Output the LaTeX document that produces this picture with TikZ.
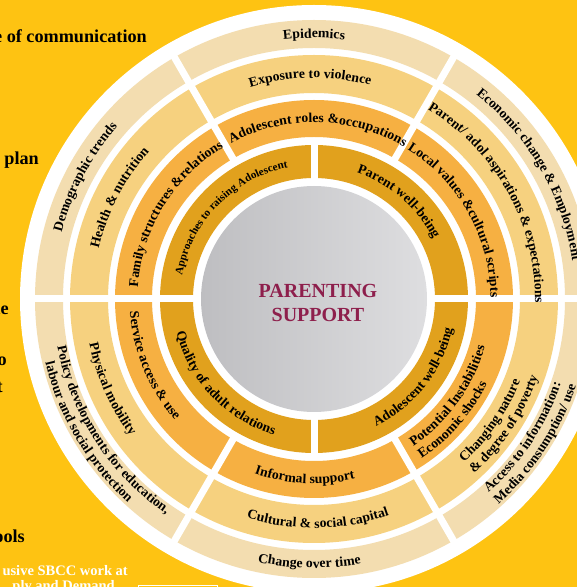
\documentclass[tikz,border=0pt]{standalone}
\usepackage{fontspec}
\setmainfont{Liberation Serif}
\newfontfamily\ringfont{Liberation Serif}[FakeStretch=1.02]
\usetikzlibrary{decorations.text}

\definecolor{bgyellow}{RGB}{254,195,18}
\definecolor{ringA}{RGB}{225,161,29}
\definecolor{ringB}{RGB}{246,176,66}
\definecolor{ringC}{RGB}{246,209,127}
\definecolor{ringD}{RGB}{243,221,176}
\definecolor{plum}{RGB}{142,31,76}
\definecolor{greyL}{RGB}{190,190,193}
\definecolor{greyR}{RGB}{222,222,224}

\newcommand{\lblfont}[1]{\ringfont\fontsize{#1}{#1}\selectfont\bfseries}

% upper half: text runs clockwise, lower half: anticlockwise
\newcommand{\uplabel}[4][13.5]{%
  \path[decorate, decoration={text along path, text align=center,
      text={|\lblfont{#1}|#4}}]
    (#3+45:#2) arc[start angle=#3+45, end angle=#3-45, radius=#2];}
\newcommand{\lowlabel}[4][13.5]{%
  \path[decorate, decoration={text along path, text align=center,
      text={|\lblfont{#1}|#4}}]
    (#3-45:#2) arc[start angle=#3-45, end angle=#3+45, radius=#2];}
\newcommand{\lowlabelleft}[3]{%
  \path[decorate, decoration={text along path, text align=left,
      text={|\lblfont{13.5}|#3}}]
    (#2:#1) arc[start angle=#2, end angle=#2+80, radius=#1];}

\tikzset{
  gap/.style={white, line width=7pt},
  title/.style={text=plum, font=\fontsize{20}{24}\selectfont\bfseries, anchor=base},
  side/.style={font=\fontsize{18.2}{22}\selectfont\bfseries, anchor=base east, inner sep=0pt},
  sidew/.style={text=white, font=\fontsize{14.5}{18}\selectfont\bfseries, anchor=base east, inner sep=0pt},
}

\begin{document}
\begin{tikzpicture}[x=1pt, y=1pt]
    \fill[bgyellow] (0,0) rectangle (577,587);
    \useasboundingbox (0,0) rectangle (577,587);

    % text cut off at the left edge
    \node[side] (comm) at (147,544) {e of communication};
    \node[side] (plan) at (39,422) {n plan};
    \node[side] (le) at (9,272) {le};
    \node[side] (o) at (7,221) {o};
    \node[side] (t) at (3,194) {t};
    \node[side] (tools) at (25,44) {ools};
    \node[sidew] (sbcc) at (128,12) {usive SBCC work at};
    \node[sidew] (demand) at (115,-3) {ply and Demand};
    \draw[white, line width=0.8pt] (138,2) rectangle (217,-20);

    \begin{scope}[shift={(314,288)}]
        \fill[white] (0,0) circle (294);
        \fill[ringD, even odd rule] (0,0) circle (279) circle (251);
        \fill[ringC, even odd rule] (0,0) circle (244) circle (206);
        \fill[ringB, even odd rule] (0,0) circle (199) circle (162);
        \fill[ringA, even odd rule] (0,0) circle (154) circle (121);

        \foreach \a in {0,60,...,300}
            \draw[gap] (\a:158) -- (\a:283);
        \foreach \a in {0,90,180,270}
            \draw[gap] (\a:117) -- (\a:158);

        \shade[left color=greyL, right color=greyR] (0,0) circle (113);
        \node[title] (parenting) at (4,1) {PARENTING};
        \node[title] (support) at (4,-23) {SUPPORT};

        % outer ring
        \uplabel{261}{90}{Epidemics}
        \uplabel{261}{30}{Economic change {\&} Employment}
        \uplabel{261}{152}{Demographic trends}
        \lowlabel{269}{269}{Change over time}
        \lowlabel{261}{213}{Policy developments for education,}
        \lowlabel{276}{210.5}{labour and social protection}
        \lowlabelleft{261}{-48}{Access to information:}
        \lowlabelleft{276}{-48}{Media consumption/ use}

        % third ring
        \uplabel{221}{91}{Exposure to violence}
        \uplabel{221}{152.5}{Health {\&} nutrition}
        \uplabel{221}{29}{Parent/ adol aspirations {\&} expectations}
        \lowlabel{229}{271}{Cultural {\&} social capital}
        \lowlabel{229}{204}{Physical mobility}
        \lowlabelleft{222}{-47.5}{Changing nature}
        \lowlabelleft{237}{-47.5}{{\&} degree of poverty}

        % second ring
        \uplabel{176.5}{88.7}{Adolescent roles {\&}occupations}
        \uplabel{176.5}{148.5}{Family structures {\&}relations}
        \uplabel{176.5}{29.3}{Local values {\&}cultural scripts}
        \lowlabel{184.5}{267}{Informal support}
        \lowlabel{184.5}{202.5}{Service access {\&} use}
        \lowlabelleft{177.5}{-56}{Potential Instabilities}
        \lowlabelleft{192.5}{-56}{Economic shocks}

        % inner ring
        \uplabel[11]{134}{135.5}{Approaches to raising Adolescent}
        \uplabel{133.5}{49}{Parent well-being}
        \lowlabel{141.5}{-38}{Adolescent well-being}
        \lowlabel{141.5}{223.6}{Quality of adult relations}
    \end{scope}
\end{tikzpicture}
\end{document}
